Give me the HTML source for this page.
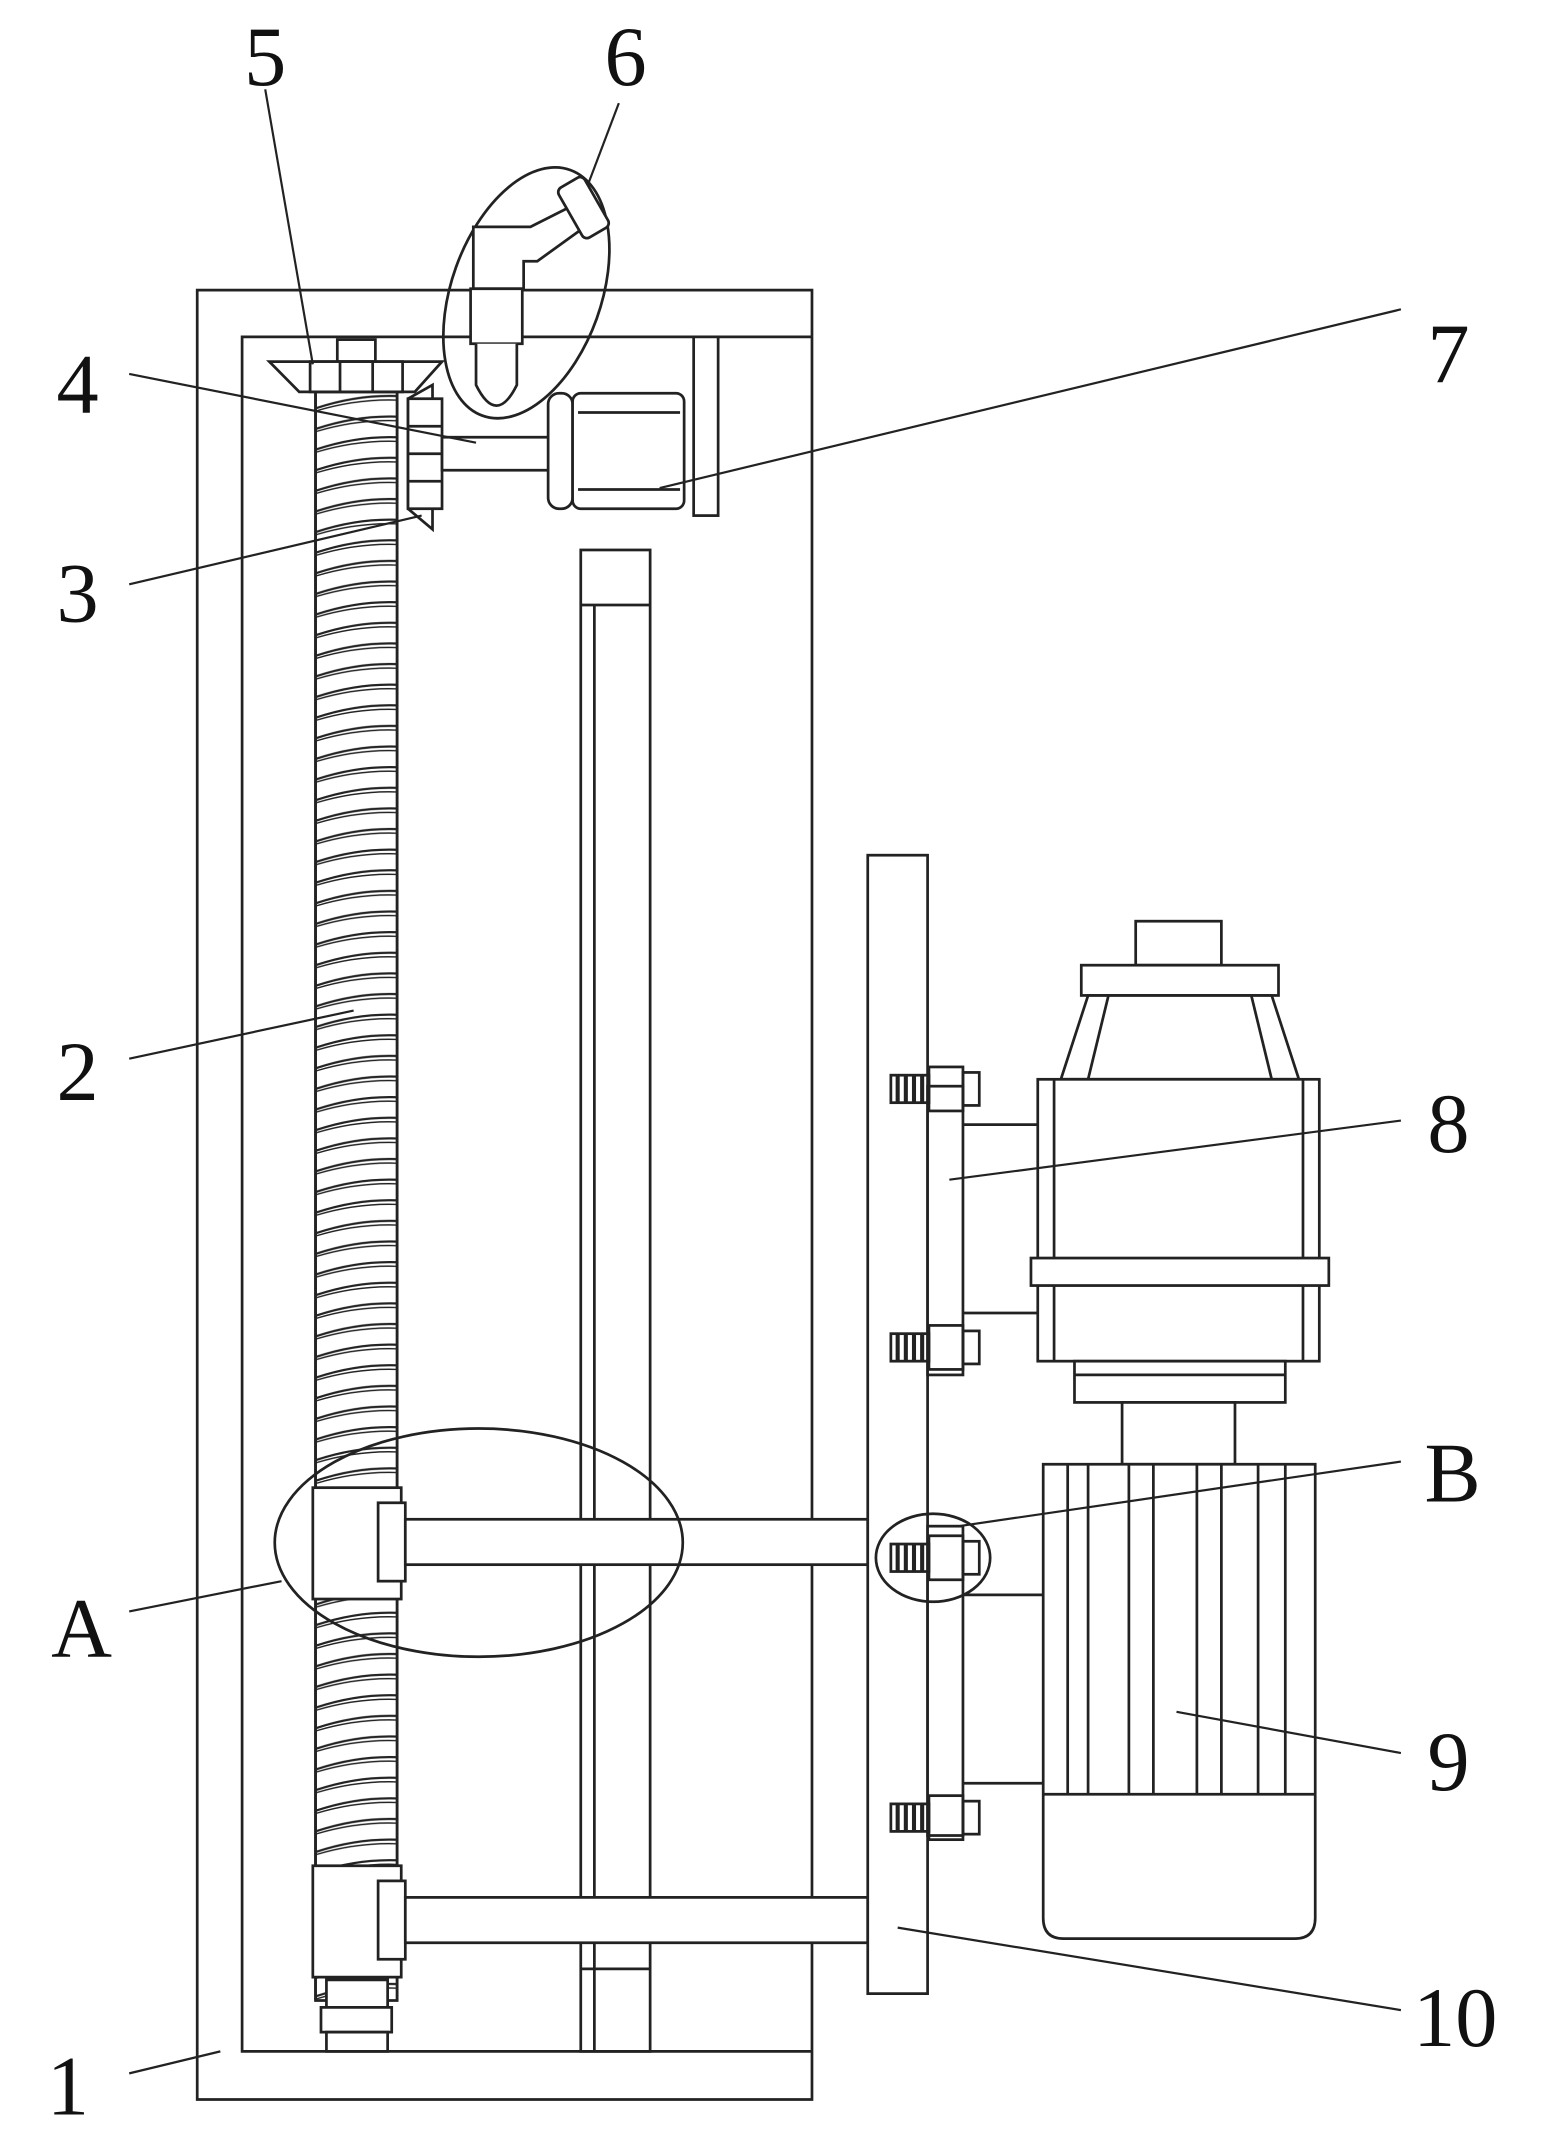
<!DOCTYPE html>
<html><head><style>
html,body{margin:0;padding:0;background:#fff}
svg{display:block}
text{font-family:"Liberation Serif","Noto Serif CJK SC",serif;font-size:62px;fill:#111}
</style></head><body>
<svg width="1541" height="2149" viewBox="0 0 1133 1563" preserveAspectRatio="none" xmlns="http://www.w3.org/2000/svg">
<defs>
<pattern id="thr" x="232" y="0" width="60" height="15" patternUnits="userSpaceOnUse">
<path d="M0,12 Q30,2 60,3" fill="none" stroke="#222" stroke-width="1.6"/>
<path d="M0,14 Q30,5 60,6" fill="none" stroke="#222" stroke-width="1"/>
</pattern>
</defs>
<g fill="none" stroke="#222" stroke-width="2">
<!-- frame -->
<rect x="145" y="211" width="452" height="1316"/>
<polyline points="597,245 178,245 178,1492 597,1492"/>
<!-- guide rod -->
<rect x="427" y="400" width="51" height="1092" fill="#fff"/>
<line x1="437" y1="440" x2="437" y2="1492"/>
<line x1="427" y1="440" x2="478" y2="440"/>
<line x1="427" y1="1432" x2="478" y2="1432"/>
<!-- screw -->
<rect x="232" y="285" width="60" height="1170" fill="url(#thr)"/>
<line x1="232" y1="285" x2="232" y2="1455"/>
<line x1="292" y1="285" x2="292" y2="1455"/>
<rect x="240" y="1440" width="45" height="20" fill="#fff"/>
<rect x="236" y="1460" width="52" height="18" fill="#fff"/>
<rect x="240" y="1478" width="45" height="14" fill="#fff"/>
<!-- top gear 5 -->
<rect x="248" y="247" width="28" height="16" fill="#fff"/>
<polygon points="198,263 325,263 305,285 220,285" fill="#fff"/>
<rect x="228" y="263" width="68" height="22" fill="#fff"/>
<line x1="250" y1="263" x2="250" y2="285"/><line x1="274" y1="263" x2="274" y2="285"/>
<!-- gear 3 -->
<polygon points="300,290 318,280 318,385 300,370" fill="#fff"/>
<rect x="300" y="290" width="25" height="80" fill="#fff"/>
<line x1="300" y1="310" x2="325" y2="310"/><line x1="300" y1="330" x2="325" y2="330"/><line x1="300" y1="350" x2="325" y2="350"/>
<!-- shaft 4 -->
<rect x="325" y="318" width="80" height="24" fill="#fff"/>
<!-- motor 7 -->
<rect x="403" y="286" width="18" height="84" rx="8" fill="#fff"/>
<rect x="421" y="286" width="82" height="84" rx="6" fill="#fff"/>
<line x1="425" y1="300" x2="500" y2="300"/><line x1="425" y1="356" x2="500" y2="356"/>
<rect x="510" y="245" width="18" height="130" fill="#fff"/>
<!-- nozzle 6 -->
<ellipse cx="387" cy="213" rx="55" ry="95" transform="rotate(20 387 213)"/>
<path d="M348,210 L348,165 L390,165 L420,150 L430,165 L395,190 L385,190 L385,210 Z" fill="#fff"/>
<rect x="418" y="130" width="22" height="42" rx="4" transform="rotate(-30 429 151)" fill="#fff"/>
<rect x="346" y="210" width="38" height="40" fill="#fff"/>
<path d="M350,250 L350,280 Q365,310 380,280 L380,250" fill="#fff"/>
<!-- arms -->
<rect x="230" y="1082" width="65" height="81" fill="#fff"/>
<rect x="278" y="1093" width="20" height="57" fill="#fff"/>
<rect x="298" y="1105" width="340" height="33" fill="#fff"/>
<ellipse cx="352" cy="1122" rx="150" ry="83"/>
<rect x="230" y="1357" width="65" height="81" fill="#fff"/>
<rect x="278" y="1368" width="20" height="57" fill="#fff"/>
<rect x="298" y="1380" width="340" height="33" fill="#fff"/>
<!-- plate 10 -->
<rect x="638" y="622" width="44" height="828" fill="#fff"/>
<!-- brackets -->
<rect x="682" y="790" width="26" height="210" fill="#fff"/>
<line x1="708" y1="818" x2="765" y2="818"/><line x1="708" y1="955" x2="765" y2="955"/>
<rect x="682" y="1110" width="26" height="225" fill="#fff"/>
<line x1="708" y1="1160" x2="767" y2="1160"/><line x1="708" y1="1297" x2="767" y2="1297"/>
<!-- bolts -->
<g>
<rect x="655" y="782" width="28" height="20"/><rect x="683" y="776" width="25" height="32"/><rect x="708" y="780" width="12" height="24"/>
<rect x="655" y="970" width="28" height="20"/><rect x="683" y="964" width="25" height="32"/><rect x="708" y="968" width="12" height="24"/>
<rect x="655" y="1123" width="28" height="20"/><rect x="683" y="1117" width="25" height="32"/><rect x="708" y="1121" width="12" height="24"/>
<rect x="655" y="1312" width="28" height="20"/><rect x="683" y="1306" width="25" height="32"/><rect x="708" y="1310" width="12" height="24"/>
</g>
<g stroke-width="3">
<path d="M660,782v20M666,782v20M672,782v20M678,782v20"/>
<path d="M660,970v20M666,970v20M672,970v20M678,970v20"/>
<path d="M660,1123v20M666,1123v20M672,1123v20M678,1123v20"/>
<path d="M660,1312v20M666,1312v20M672,1312v20M678,1312v20"/>
</g>
<ellipse cx="686" cy="1133" rx="42" ry="32"/>
<!-- motor 8 -->
<rect x="835" y="670" width="63" height="32" fill="#fff"/>
<rect x="795" y="702" width="145" height="22" fill="#fff"/>
<polygon points="800,724 935,724 955,785 780,785" fill="#fff"/>
<polyline points="815,724 800,785"/><polyline points="920,724 935,785"/>
<rect x="763" y="785" width="207" height="205" fill="#fff"/>
<line x1="775" y1="785" x2="775" y2="990"/><line x1="958" y1="785" x2="958" y2="990"/>
<rect x="758" y="915" width="219" height="20" fill="#fff"/>
<rect x="790" y="990" width="155" height="30" fill="#fff"/>
<line x1="790" y1="1000" x2="945" y2="1000"/>
<rect x="825" y="1020" width="83" height="45" fill="#fff"/>
<!-- motor 9 -->
<path d="M767,1065 H967 V1395 Q967,1410 952,1410 H782 Q767,1410 767,1395 Z" fill="#fff"/>
<line x1="767" y1="1305" x2="967" y2="1305"/>
<path d="M785,1065V1305M800,1065V1305M830,1065V1305M848,1065V1305M880,1065V1305M898,1065V1305M925,1065V1305M945,1065V1305"/>
<!-- leaders -->
<g stroke-width="1.6">
<line x1="195" y1="65" x2="230" y2="265"/>
<line x1="455" y1="75" x2="432" y2="135"/>
<line x1="1030" y1="225" x2="485" y2="355"/>
<line x1="95" y1="272" x2="350" y2="322"/>
<line x1="95" y1="425" x2="310" y2="375"/>
<line x1="95" y1="770" x2="260" y2="735"/>
<line x1="1030" y1="815" x2="698" y2="858"/>
<line x1="1030" y1="1063" x2="705" y2="1110"/>
<line x1="95" y1="1172" x2="207" y2="1150"/>
<line x1="1030" y1="1275" x2="865" y2="1245"/>
<line x1="1030" y1="1462" x2="660" y2="1402"/>
<line x1="95" y1="1508" x2="162" y2="1492"/>
</g>
</g>
<g text-anchor="middle">
<text x="195" y="62">5</text>
<text x="460" y="62">6</text>
<text x="1065" y="278">7</text>
<text x="57" y="300">4</text>
<text x="57" y="452">3</text>
<text x="57" y="800">2</text>
<text x="1065" y="838">8</text>
<text x="1068" y="1092">B</text>
<text x="60" y="1205">A</text>
<text x="1065" y="1302">9</text>
<text x="1070" y="1488">10</text>
<text x="50" y="1538">1</text>
</g>
</svg>
</body></html>
